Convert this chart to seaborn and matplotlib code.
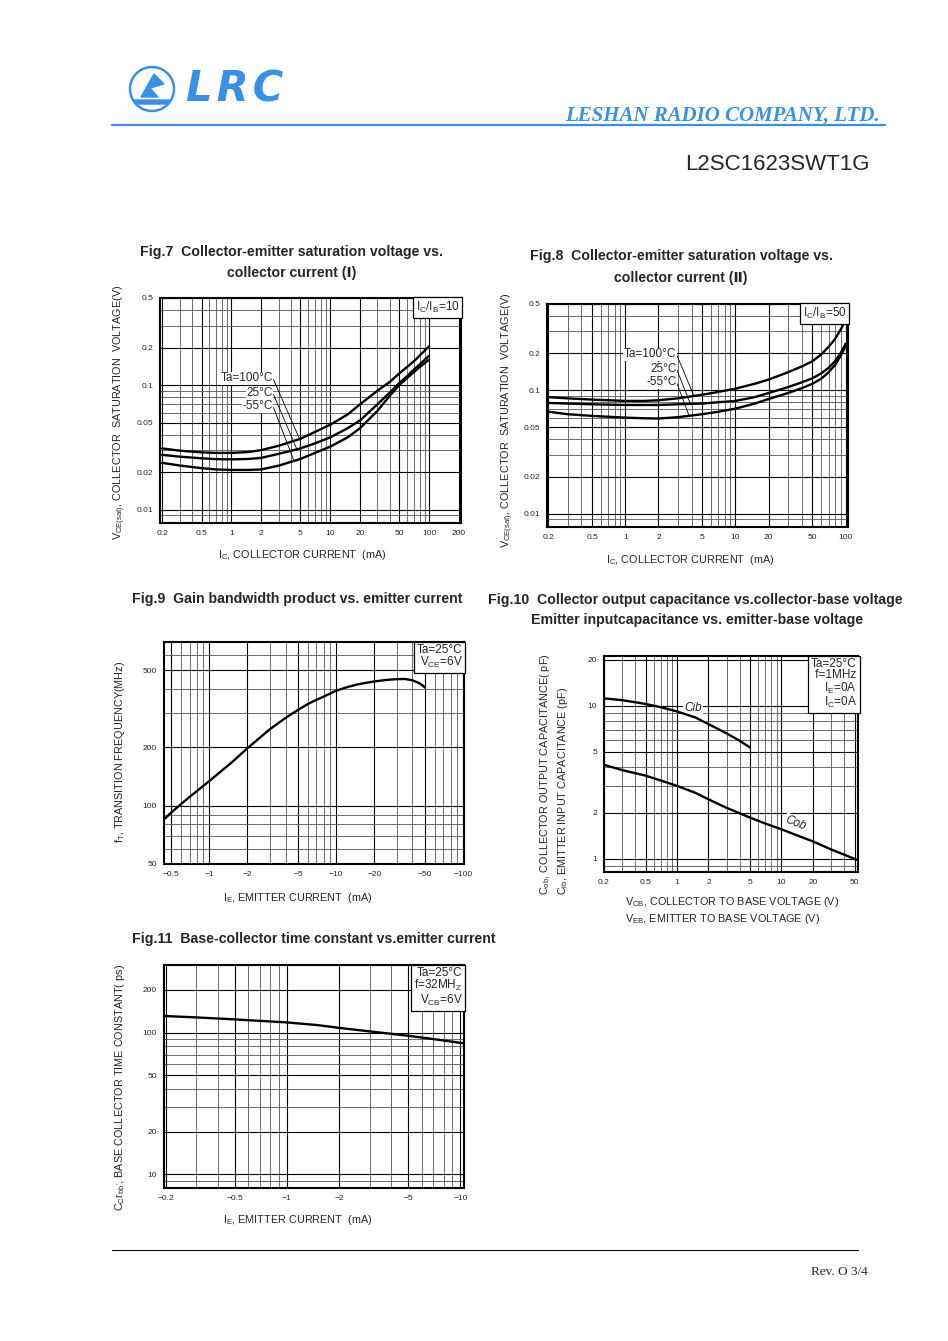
import numpy as np
import pandas as pd
import matplotlib
matplotlib.use("Agg")
import matplotlib.pyplot as plt
import seaborn as sns
from matplotlib.ticker import LogLocator, NullFormatter
from matplotlib.patches import Ellipse, Polygon

# ---- data ----
# Fig.7  Ic/Ib = 10
ic7 = [0.2, 0.3, 0.5, 0.7, 1, 1.5, 2, 3, 5, 7, 10, 15, 20, 30, 40, 50, 60, 70, 80, 100]
vce7_100 = [0.031, 0.0297, 0.0288, 0.0285, 0.0285, 0.029, 0.030, 0.0325, 0.037, 0.042, 0.048,
            0.058, 0.070, 0.090, 0.106, 0.124, 0.140, 0.155, 0.172, 0.205]
vce7_25 = [0.0275, 0.0266, 0.0258, 0.0254, 0.0253, 0.0255, 0.026, 0.028, 0.031, 0.034, 0.038,
           0.045, 0.052, 0.070, 0.087, 0.104, 0.118, 0.133, 0.146, 0.172]
vce7_m55 = [0.0237, 0.0226, 0.0215, 0.021, 0.0208, 0.0208, 0.021, 0.0225, 0.0255, 0.0285, 0.032,
            0.038, 0.045, 0.062, 0.082, 0.100, 0.114, 0.127, 0.139, 0.160]

# Fig.8  Ic/Ib = 50
ic8 = [0.2, 0.3, 0.5, 0.7, 1, 1.5, 2, 3, 5, 7, 10, 15, 20, 30, 40, 50, 60, 70, 80, 90, 100]
vce8_100 = [0.088, 0.086, 0.084, 0.083, 0.082, 0.082, 0.083, 0.086, 0.092, 0.097, 0.103, 0.113,
            0.122, 0.140, 0.156, 0.172, 0.195, 0.225, 0.26, 0.31, 0.37]
vce8_25 = [0.079, 0.078, 0.077, 0.0765, 0.076, 0.076, 0.076, 0.077, 0.078, 0.080, 0.082, 0.088,
           0.095, 0.106, 0.116, 0.125, 0.137, 0.152, 0.172, 0.20, 0.238]
vce8_m55 = [0.067, 0.064, 0.062, 0.061, 0.060, 0.0593, 0.059, 0.0605, 0.064, 0.067, 0.071, 0.078,
            0.085, 0.095, 0.104, 0.113, 0.124, 0.140, 0.160, 0.19, 0.228]

temps = ["100", "25", "-55"]

# Fig.9  fT vs IE (magnitude, mA)
ie9 = [0.44, 0.5, 0.6, 0.7, 0.8, 1.0, 1.2, 1.5, 2, 2.5, 3, 4, 5, 6, 7, 8, 10, 12, 15, 20,
       25, 30, 35, 40, 45, 48, 50]
ft9 = [85, 92, 102, 111, 119, 134, 148, 167, 198, 224, 248, 284, 312, 335, 352, 366, 392, 408,
       424, 438, 446, 450, 451, 444, 430, 418, 408]

# Fig.10  Cib / Cob
v_cib = [0.2, 0.3, 0.5, 0.7, 1, 1.5, 2, 3, 4, 5]
cib = [11.2, 10.9, 10.3, 9.8, 9.2, 8.4, 7.6, 6.6, 5.9, 5.35]
v_cob = [0.2, 0.3, 0.5, 0.7, 1, 1.5, 2, 3, 5, 7, 10, 15, 20, 30, 50, 54]
cob = [4.12, 3.8, 3.5, 3.25, 3.0, 2.7, 2.45, 2.15, 1.86, 1.7, 1.56, 1.4, 1.3, 1.15, 1.0, 0.98]

# Fig.11  Cc*rbb' vs IE (magnitude, mA)
ie11 = [0.196, 0.3, 0.5, 0.7, 1, 1.5, 2, 3, 4, 5, 7, 10.5]
tau11 = [131, 128, 124, 121, 118, 113, 108, 102, 98, 95, 90, 84]

# tick labels
xt7 = [0.2, 0.5, 1, 2, 5, 10, 20, 50, 100, 200]
xt8 = [0.2, 0.5, 1, 2, 5, 10, 20, 50, 100]
yt78 = [0.01, 0.02, 0.05, 0.1, 0.2, 0.5]
xt9 = [0.5, 1, 2, 5, 10, 20, 50, 100]
yt9 = [50, 100, 200, 500]
xt10 = [0.2, 0.5, 1, 2, 5, 10, 20, 50]
yt10 = [1, 2, 5, 10, 20]
xt11 = [0.2, 0.5, 1, 2, 5, 10]
yt11 = [10, 20, 50, 100, 200]

W, H = 948, 1341
BLUE = "#3a8fe6"

sns.set_theme(style="white")
plt.rcParams["font.family"] = ["Liberation Sans", "DejaVu Sans"]
plt.rcParams["mathtext.fontset"] = "custom"
plt.rcParams["mathtext.rm"] = "Liberation Sans"
plt.rcParams["mathtext.it"] = "Liberation Sans:italic"

fig = plt.figure(figsize=(W / 100, H / 100), dpi=100)


def fx(x):
    return x / W


def fy(y):
    return 1 - y / H


def box(l, t, r, b):
    return [l / W, 1 - b / H, (r - l) / W, (b - t) / H]


def fmt(v, neg=False):
    s = f"{v:g}"
    return ("\u2212" + s) if neg else s


def setup(ax, xlim, ylim, xt, yt, neg=False):
    ax.set_xscale("log")
    ax.set_yscale("log")
    ax.set_xlim(xlim)
    ax.set_ylim(ylim)
    ax.set_xticks(xt, [fmt(v, neg) for v in xt])
    ax.set_yticks(yt, [fmt(v) for v in yt])
    ax.xaxis.set_minor_locator(LogLocator(subs=np.arange(2, 10), numticks=100))
    ax.yaxis.set_minor_locator(LogLocator(subs=np.arange(2, 10), numticks=100))
    ax.xaxis.set_minor_formatter(NullFormatter())
    ax.yaxis.set_minor_formatter(NullFormatter())
    ax.set_axisbelow(True)
    ax.grid(which="major", color="black", lw=0.8)
    ax.grid(which="minor", color="#555555", lw=0.6)
    ax.tick_params(which="both", length=0, labelsize=6, pad=5)
    ax.set_xlabel("")
    ax.set_ylabel("")
    for s in ax.spines.values():
        s.set_linewidth(1.5)
        s.set_color("black")


def cond_box(ax, txt):
    ax.text(0.995, 0.993, txt, transform=ax.transAxes, ha="right", va="top",
            fontsize=8.5, linespacing=0.95, zorder=5,
            bbox=dict(boxstyle="square,pad=0.25", fc="white", ec="black", lw=0.9))


def lab(ax, txt, xy, xyt):
    ax.annotate(txt, xy=xy, xytext=xyt, textcoords="axes fraction",
                ha="right", va="center", fontsize=8.5, zorder=6,
                bbox=dict(boxstyle="square,pad=0.05", fc="white", ec="none"),
                arrowprops=dict(arrowstyle="-", lw=0.6, color="black",
                                shrinkA=0, shrinkB=0, relpos=(1, 0.5)))


# ---- header ----
fig.add_artist(Ellipse((fx(152), fy(89)), 44 / W, 44 / H, transform=fig.transFigure,
                       fc="none", ec=BLUE, lw=1.8))
fig.add_artist(Polygon([(fx(141), fy(97)), (fx(154), fy(74)), (fx(164), fy(84)),
                        (fx(150), fy(88)), (fx(158), fy(97))],
                       closed=True, transform=fig.transFigure, fc=BLUE, ec=BLUE))
fig.add_artist(Polygon([(fx(134), fy(100)), (fx(170), fy(100)), (fx(166), fy(104)),
                        (fx(138), fy(104))],
                       closed=True, transform=fig.transFigure, fc=BLUE, ec=BLUE))
fig.text(fx(186), fy(90), "L\u200aR\u200aC", fontsize=30, fontweight="bold", fontstyle="italic",
         color=BLUE, ha="left", va="center", family="DejaVu Sans")
fig.text(fx(880), fy(116), "LESHAN RADIO COMPANY, LTD.", fontsize=15, fontweight="bold",
         fontstyle="italic", color=BLUE, ha="right", va="center", family="Liberation Serif")
fig.add_artist(plt.Line2D([fx(112), fx(885)], [fy(125), fy(125)], color=BLUE, lw=1.6,
                          transform=fig.transFigure))
fig.text(fx(870), fy(165), "L2SC1623SWT1G", fontsize=16, ha="right", va="center")

# ---- footer ----
fig.add_artist(plt.Line2D([fx(112), fx(858)], [fy(1250), fy(1250)], color="black", lw=0.8,
                          transform=fig.transFigure))
fig.text(fx(868), fy(1272), "Rev. O 3/4", fontsize=9.5, ha="right", va="center",
         family="Liberation Serif")

tfs = 10.2
lfs = 7.8
# ---- Fig.7 ----
ax7 = fig.add_axes(box(160, 298, 461, 523))
df7 = pd.DataFrame({"Ic": ic7 * 3, "Vce": vce7_100 + vce7_25 + vce7_m55,
                    "Ta": np.repeat(temps, len(ic7))})
sns.lineplot(data=df7, x="Ic", y="Vce", hue="Ta", palette=["black"] * 3, legend=False,
             estimator=None, sort=False, lw=1.7, ax=ax7)
setup(ax7, (0.19, 210), (0.0078, 0.5), xt7, yt78)
cond_box(ax7, r"I$_{\rm C}$/I$_{\rm B}$=10")
lab(ax7, "Ta=100°C", (4.9, np.interp(np.log(4.9), np.log(ic7), vce7_100)), (0.375, 0.644))
lab(ax7, "25°C", (4.6, np.interp(np.log(4.6), np.log(ic7), vce7_25)), (0.375, 0.578))
lab(ax7, "-55°C", (4.3, np.interp(np.log(4.3), np.log(ic7), vce7_m55)), (0.375, 0.52))
fig.text(fx(292), fy(252), "Fig.7  Collector-emitter saturation voltage vs.", fontsize=tfs,
         fontweight="bold", ha="center", va="center")
fig.text(fx(292), fy(273), "collector current (\u2160)", fontsize=tfs,
         fontweight="bold", ha="center", va="center")
fig.text(fx(302), fy(555), r"I$_{\rm C}$, COLLECTOR CURRENT  (mA)", fontsize=lfs,
         ha="center", va="center")
fig.text(fx(120), fy(412), r"V$_{\rm CE(sat)}$, COLLECTOR  SATURATION  VOLTAGE(V)",
         fontsize=lfs, rotation=90, ha="center", va="center")

# ---- Fig.8 ----
ax8 = fig.add_axes(box(547, 304, 848, 527))
df8 = pd.DataFrame({"Ic": ic8 * 3, "Vce": vce8_100 + vce8_25 + vce8_m55,
                    "Ta": np.repeat(temps, len(ic8))})
sns.lineplot(data=df8, x="Ic", y="Vce", hue="Ta", palette=["black"] * 3, legend=False,
             estimator=None, sort=False, lw=1.7, ax=ax8)
setup(ax8, (0.195, 105), (0.0078, 0.5), xt8, yt78)
cond_box(ax8, r"I$_{\rm C}$/I$_{\rm B}$=50")
lab(ax8, "Ta=100°C", (4.2, np.interp(np.log(4.2), np.log(ic8), vce8_100)), (0.43, 0.775))
lab(ax8, "25°C", (3.9, np.interp(np.log(3.9), np.log(ic8), vce8_25)), (0.43, 0.71))
lab(ax8, "-55°C", (3.8, np.interp(np.log(3.8), np.log(ic8), vce8_m55)), (0.43, 0.65))
fig.text(fx(681), fy(256), "Fig.8  Collector-emitter saturation voltage vs.", fontsize=tfs,
         fontweight="bold", ha="center", va="center")
fig.text(fx(681), fy(278), "collector current (\u2161)", fontsize=tfs,
         fontweight="bold", ha="center", va="center")
fig.text(fx(690), fy(560), r"I$_{\rm C}$, COLLECTOR CURRENT  (mA)", fontsize=lfs,
         ha="center", va="center")
fig.text(fx(508), fy(420), r"V$_{\rm CE(sat)}$, COLLECTOR  SATURATION  VOLTAGE(V)",
         fontsize=lfs, rotation=90, ha="center", va="center")

# ---- Fig.9 ----
ax9 = fig.add_axes(box(164, 642, 464, 864))
sns.lineplot(x=ie9, y=ft9, color="black", lw=1.7, estimator=None, sort=False, ax=ax9)
setup(ax9, (0.44, 102), (50, 700), xt9, yt9, neg=True)
cond_box(ax9, "Ta=25°C\n" + r"V$_{\rm CE}$=6V")
fig.text(fx(132), fy(599), "Fig.9  Gain bandwidth product vs. emitter current", fontsize=tfs,
         fontweight="bold", ha="left", va="center")
fig.text(fx(298), fy(898), r"I$_{\rm E}$, EMITTER CURRENT  (mA)", fontsize=lfs,
         ha="center", va="center")
fig.text(fx(120), fy(752), r"f$_{\rm T}$, TRANSITION FREQUENCY(MHz)",
         fontsize=lfs, rotation=90, ha="center", va="center")

# ---- Fig.10 ----
ax10 = fig.add_axes(box(604, 656, 858, 872))
sns.lineplot(x=v_cib, y=cib, color="black", lw=1.7, estimator=None, sort=False, ax=ax10)
sns.lineplot(x=v_cob, y=cob, color="black", lw=1.7, estimator=None, sort=False, ax=ax10)
setup(ax10, (0.2, 54), (0.82, 21.2), xt10, yt10)
cond_box(ax10, "Ta=25°C\n f=1MHz\n" + r"I$_{\rm E}$=0A" + "\n" + r"I$_{\rm C}$=0A")
ax10.text(0.35, 0.76, "Cib", transform=ax10.transAxes, fontsize=8.5, fontstyle="italic",
          ha="center", va="center", zorder=1.5,
          bbox=dict(boxstyle="square,pad=0.1", fc="white", ec="none"))
ax10.text(0.755, 0.225, "Cob", transform=ax10.transAxes, fontsize=8.5, fontstyle="italic",
          ha="center", va="center", rotation=-22, zorder=1.5,
          bbox=dict(boxstyle="square,pad=0.1", fc="white", ec="none"))
fig.text(fx(488), fy(600), "Fig.10  Collector output capacitance vs.collector-base voltage",
         fontsize=tfs, fontweight="bold", ha="left", va="center")
fig.text(fx(697), fy(620), "Emitter inputcapacitance vs. emitter-base voltage",
         fontsize=tfs, fontweight="bold", ha="center", va="center")
fig.text(fx(625), fy(902), r"V$_{\rm CB}$, COLLECTOR TO BASE VOLTAGE (V)", fontsize=lfs,
         ha="left", va="center")
fig.text(fx(625), fy(919), r"V$_{\rm EB}$, EMITTER TO BASE VOLTAGE (V)", fontsize=lfs,
         ha="left", va="center")
fig.text(fx(545), fy(895), r"C$_{\rm ob}$, COLLECTOR OUTPUT CAPACITANCE( pF)", fontsize=lfs,
         rotation=90, ha="center", va="bottom")
fig.text(fx(563), fy(895), r"C$_{\rm ib}$, EMITTER INPUT CAPACITANCE (pF)", fontsize=lfs,
         rotation=90, ha="center", va="bottom")

# ---- Fig.11 ----
ax11 = fig.add_axes(box(164, 965, 464, 1188))
sns.lineplot(x=ie11, y=tau11, color="black", lw=1.7, estimator=None, sort=False, ax=ax11)
setup(ax11, (0.196, 10.5), (8, 300), xt11, yt11, neg=True)
cond_box(ax11, "Ta=25°C\n" + r"f=32MH$_{\rm Z}$" + "\n" + r"V$_{\rm CB}$=6V")
fig.text(fx(132), fy(939), "Fig.11  Base-collector time constant vs.emitter current",
         fontsize=tfs, fontweight="bold", ha="left", va="center")
fig.text(fx(298), fy(1220), r"I$_{\rm E}$, EMITTER CURRENT  (mA)", fontsize=lfs,
         ha="center", va="center")
fig.text(fx(120), fy(1087), r"C$_{\rm C}$r$_{\rm bb'}$, BASE COLLECTOR TIME CONSTANT( ps)",
         fontsize=lfs, rotation=90, ha="center", va="center")

fig.savefig("out.png", dpi=100, facecolor="white")
